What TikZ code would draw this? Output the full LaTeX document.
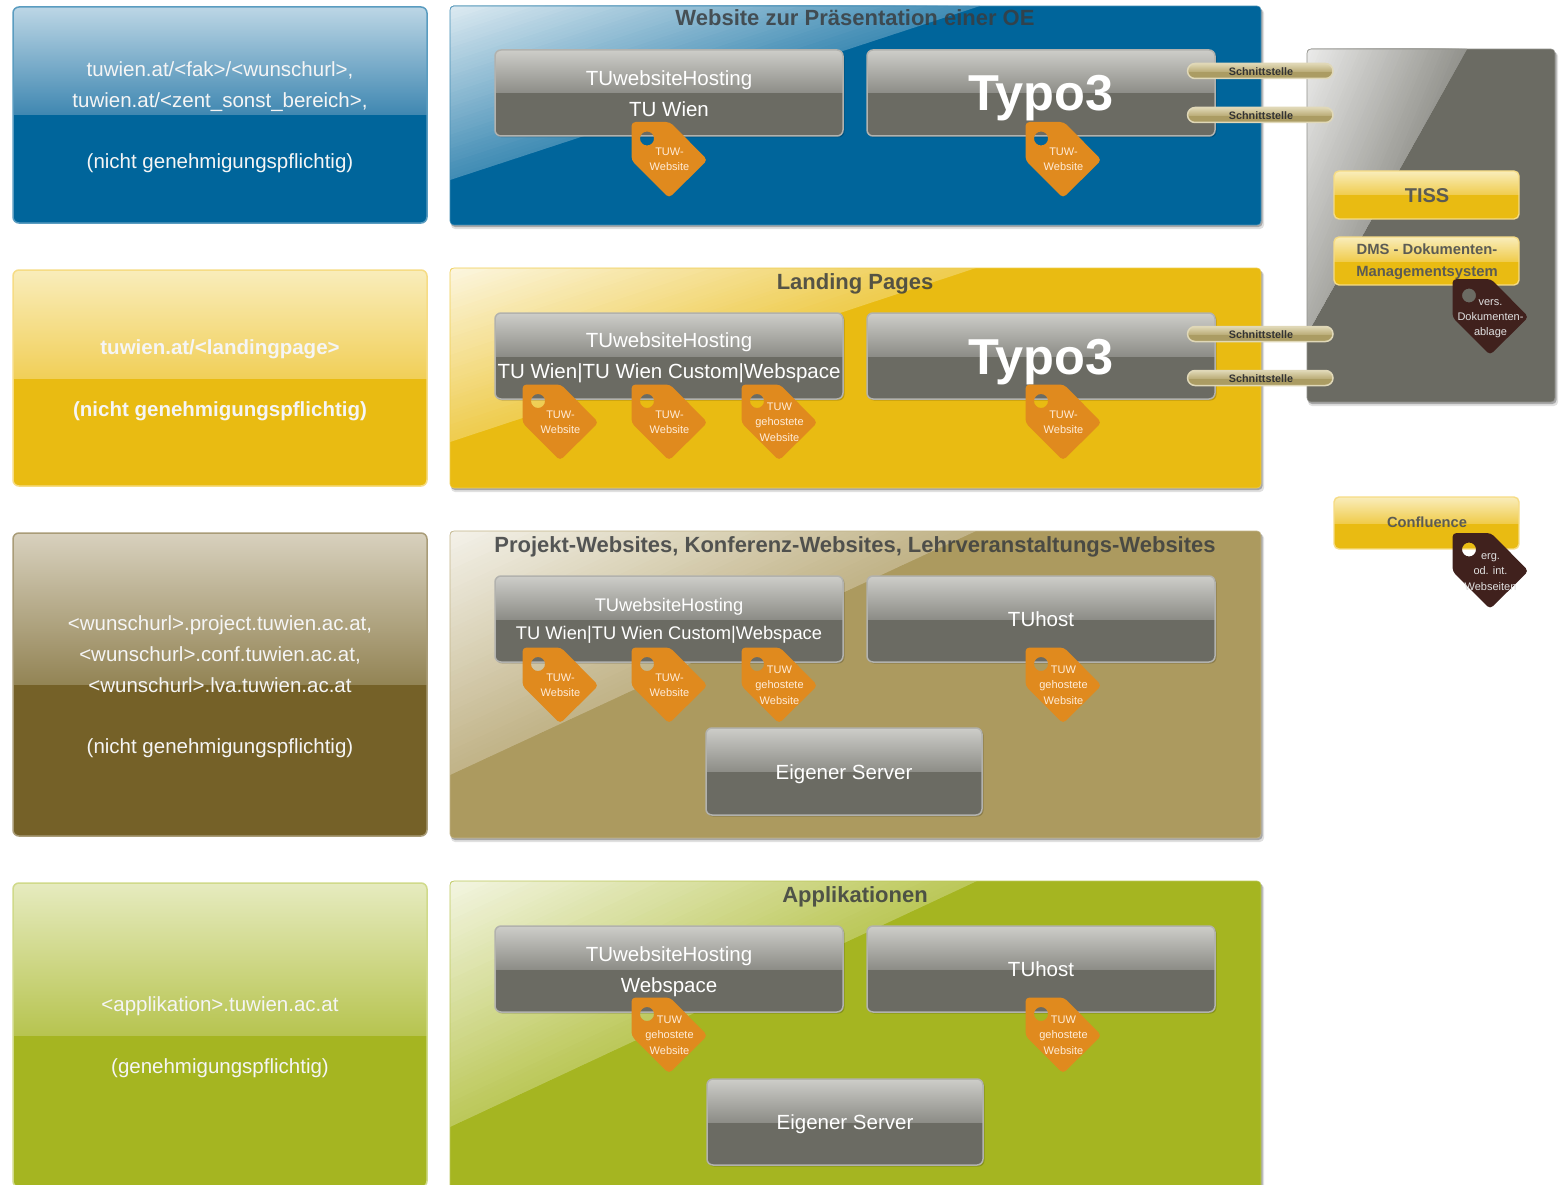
\documentclass[tikz,border=0pt]{standalone}
\usepackage{fontspec}
\setmainfont{Liberation Sans}
\definecolor{cblue}{HTML}{00659B}
\definecolor{cyellow}{HTML}{E9BB12}
\definecolor{cbrown}{HTML}{756128}
\definecolor{ctan}{HTML}{AC9A5F}
\definecolor{cgreen}{HTML}{A5B521}
\definecolor{cgrey}{HTML}{6B6B63}
\definecolor{corange}{HTML}{E08A1E}
\definecolor{cdark}{HTML}{40211D}
\definecolor{ctitle}{HTML}{3A3D3F}
\newcommand{\fsz}[2]{\fontsize{#1}{#2}\selectfont}
% left panel / any box with glossy upper half: x1 y1 x2 y2 split base radius top mid
\newcommand{\glossbox}[9]{%
  \begin{scope}
    \clip[rounded corners=#7] (#1,#2) rectangle (#3,#4);
    \fill[#6] (#1,#2) rectangle (#3,#4);
    \shade[top color=#8,bottom color=#9] (#1,#2) rectangle (#3,#5);
  \end{scope}}
\newcommand{\boxedge}[7]{\draw[#5,line width=#6,rounded corners=#7] (#1,#2) rectangle (#3,#4);}
% diagonal gloss panel: x1 y1 x2 y2 W H clipW clipH base
\newcommand{\diagpanel}[9]{%
  \fill[black,opacity=.12,rounded corners=4pt] (#1+1,#2+3) rectangle (#3+3,#4+4);
  \fill[black,opacity=.25,rounded corners=4pt] (#1+1,#2+2) rectangle (#3+1.5,#4+2);
  \begin{scope}
    \clip[rounded corners=4pt] (#1,#2) rectangle (#3,#4);
    \fill[#9] (#1,#2) rectangle (#3,#4);
    \clip (#1,#2) -- (#1+#7,#2) -- (#1,#2+#8) -- cycle;
    \foreach \t in {100,98,...,2}{%
      \pgfmathtruncatemacro{\p}{88-(88-26)*\t/100}%
      \fill[white!\p!#9] (#1,#2) -- (#1+#5/100*\t,#2) -- (#1,#2+#6/100*\t) -- cycle;}
  \end{scope}
  \draw[#9!75!white,line width=.6pt,rounded corners=4pt] (#1,#2) rectangle (#3,#4);}
\definecolor{HTMLcc}{HTML}{CDCDC9}
\definecolor{HTMLmm}{HTML}{8D8D87}
\definecolor{HTMLb}{HTML}{B2B2AE}
\definecolor{ytop}{HTML}{F9EDBB}
\definecolor{ymid}{HTML}{F0CC4D}
\definecolor{yedge}{HTML}{F6DC85}
% sub box: x1 y1 x2 y2
\newcommand{\greybox}[4]{%
  \pgfmathsetmacro{\sp}{(#2+#4)/2}%
  \fill[black,opacity=.18,rounded corners=6pt] (#1+1,#2+1) rectangle (#3+1.5,#4+1.5);
  \glossbox{#1}{#2}{#3}{#4}{\sp}{cgrey}{6pt}{HTMLcc}{HTMLmm}
  \boxedge{#1}{#2}{#3}{#4}{HTMLb}{1.5pt}{6pt}}
% yellow box: x1 y1 x2 y2
\newcommand{\yellowbox}[4]{%
  \pgfmathsetmacro{\sp}{(#2+#4)/2}%
  \glossbox{#1}{#2}{#3}{#4}{\sp}{cyellow}{5pt}{ytop}{ymid}
  \boxedge{#1}{#2}{#3}{#4}{yedge}{1.4pt}{5pt}}
% price tag: name cx cy colour textcolour text
\newcommand{\pricetag}[6]{%
  \fill[#4,even odd rule,rounded corners=4pt,shift={(#2,#3)}]
    (-37.5,-37.5) -- (1,-37.5) -- (38.5,0.5) -- (0,38.5) -- (-37.5,1) -- cycle
    (-22,-21) circle[radius=7];
  \node[tagtext,text=#5] (#1) at (#2+.5,#3) {#6};}
% pill: name cy
\definecolor{ptop}{HTML}{E0D8B6}
\definecolor{pmid}{HTML}{BBAD78}
\definecolor{pbase}{HTML}{AB9C63}
\definecolor{pedge}{HTML}{E0D8B8}
\newcommand{\pill}[2]{%
  \pgfmathsetmacro{\pa}{#2-7.5}\pgfmathsetmacro{\pb}{#2+7.5}%
  \glossbox{1187.5}{\pa}{1333}{\pb}{#2+.5}{pbase}{7.5pt}{ptop}{pmid}
  \boxedge{1187.5}{\pa}{1333}{\pb}{pedge}{1.5pt}{7.5pt}
  \node[pilltext] (#1) at (1261,#2+.7) {Schnittstelle};}
\tikzset{
  tagtext/.style={font=\fsz{11}{15.3},align=center,inner sep=0pt},
  lefttext/.style={font=\fsz{20.5}{30.8},align=center,inner sep=0pt,text=white!96!black},
  boxtext/.style={font=\fsz{20.5}{31},align=center,inner sep=0pt,text=white},
  typotext/.style={font=\fsz{50.5}{51}\bfseries,inner sep=0pt,text=white,anchor=base},
  titletext/.style={font=\fsz{22}{26}\bfseries,inner sep=0pt,text=ctitle,text opacity=.85,anchor=base},
  yellowtext/.style={font=\fsz{14.8}{22}\bfseries,align=center,inner sep=0pt,text=cgrey!85!black},
  pilltext/.style={font=\fsz{10.8}{12}\bfseries,inner sep=0pt,text=black!80},
}
\begin{document}
\begin{tikzpicture}[x=1pt,y=-1pt]
\useasboundingbox (0,0) rectangle (1565,1185);
\clip (0,0) rectangle (1565,1185);
\fill[white] (0,0) rectangle (1565,1185);
% ----- left panels
\definecolor{bt}{HTML}{BCD6E5}\definecolor{bm}{HTML}{3F87B1}\definecolor{be}{HTML}{5A9CC0}
\definecolor{yt}{HTML}{F9EDBB}\definecolor{ym}{HTML}{F1CF58}\definecolor{ye}{HTML}{F6DC85}
\definecolor{nt}{HTML}{D8D1BE}\definecolor{nm}{HTML}{938455}\definecolor{ne}{HTML}{A99C78}
\definecolor{gt}{HTML}{E6EBBF}\definecolor{gm}{HTML}{B7C450}\definecolor{ge}{HTML}{D0DA8A}
\glossbox{13}{7}{427}{223}{115}{cblue}{6pt}{bt}{bm}
\boxedge{13}{7}{427}{223}{be}{1.5pt}{6pt}
\glossbox{13}{270}{427}{486}{378}{cyellow}{6pt}{yt}{ym}
\boxedge{13}{270}{427}{486}{ye}{1.5pt}{6pt}
\glossbox{13}{533}{427}{836}{684}{cbrown}{6pt}{nt}{nm}
\boxedge{13}{533}{427}{836}{ne}{1.5pt}{6pt}
\glossbox{13}{883}{427}{1187}{1035}{cgreen}{6pt}{gt}{gm}
\boxedge{13}{883}{427}{1187}{ge}{1.5pt}{6pt}
\node[lefttext] (l1) at (220,117.5) {tuwien.at/<fak>/<wunschurl>,\\tuwien.at/<zent\_sonst\_bereich>,\\[30.8pt](nicht genehmigungspflichtig)};
\node[lefttext,font=\fsz{20.5}{30.8}\bfseries] (l2) at (220,380.5) {tuwien.at/<landingpage>\\[30.8pt](nicht genehmigungspflichtig)};
\node[lefttext] (l3) at (220,687) {<wunschurl>.project.tuwien.ac.at,\\<wunschurl>.conf.tuwien.ac.at,\\<wunschurl>.lva.tuwien.ac.at\\[30.8pt](nicht genehmigungspflichtig)};
\node[lefttext] (l4) at (220,1037) {<applikation>.tuwien.ac.at\\[30.8pt](genehmigungspflichtig)};
% ----- right panels
\diagpanel{450}{6}{1261}{225}{530}{174}{530}{174}{cblue}
\diagpanel{450}{268}{1261}{488}{526}{174}{526}{174}{cyellow}
\diagpanel{450}{531}{1261}{838}{526}{244}{526}{244}{ctan}
\diagpanel{450}{881}{1261}{1190}{527}{246}{527}{246}{cgreen}
\diagpanel{1307}{49}{1555}{402}{165}{400}{160}{285}{cgrey}
\node[titletext] (t1) at (855,26) {Website zur Präsentation einer OE};
\node[titletext] (t2) at (855,289) {Landing Pages};
\node[titletext] (t3) at (855,552) {Projekt-Websites, Konferenz-Websites, Lehrveranstaltungs-Websites};
\node[titletext] (t4) at (855,902) {Applikationen};
% ----- sub boxes
\greybox{495}{50}{843}{136}
\greybox{867}{50}{1215}{136}
\greybox{495}{313}{843}{399}
\greybox{867}{313}{1215}{399}
\greybox{495}{576}{843}{662}
\greybox{867}{576}{1215}{662}
\greybox{706}{728}{982}{815}
\greybox{495}{926}{843}{1012}
\greybox{867}{926}{1215}{1012}
\greybox{707}{1079}{983}{1165}
\node[boxtext] (a1) at (669,94) {TUwebsiteHosting\\TU Wien};
\node[typotext] (a2) at (1041,111) {Typo3};
\node[boxtext] (b1) at (669,358) {TUwebsiteHosting\\TU Wien|TU Wien Custom|Webspace};
\node[typotext] (b2) at (1041,374) {Typo3};
\node[boxtext,font=\fsz{18.3}{28}] (c1) at (669,621) {TUwebsiteHosting\\TU Wien|TU Wien Custom|Webspace};
\node[boxtext] (c2) at (1041,619) {TUhost};
\node[boxtext] (c3) at (844,774) {Eigener Server};
\node[boxtext] (d1) at (669,972) {TUwebsiteHosting\\Webspace};
\node[boxtext] (d2) at (1041,969) {TUhost};
\node[boxtext] (d3) at (845,1124) {Eigener Server};
% ----- pills
\pill{s1}{71}
\pill{s2}{115}
\pill{s3}{334}
\pill{s4}{378}
% ----- yellow boxes
\yellowbox{1334}{171}{1519}{219}
\yellowbox{1334}{237}{1519}{285}
\yellowbox{1334}{497}{1519}{549}
\node[yellowtext,font=\fsz{20}{24}\bfseries] (y1) at (1427,196) {TISS};
\node[yellowtext] (y2) at (1427,262) {DMS - Dokumenten-\\Managementsystem};
\node[yellowtext,font=\fsz{14.7}{18}\bfseries] (y3) at (1427,522) {Confluence};
% ----- tags
\pricetag{g1}{669}{159.5}{corange}{orange!15!white}{TUW-\\Website}
\pricetag{g2}{1063}{159.5}{corange}{orange!15!white}{TUW-\\Website}
\pricetag{g3}{560}{422}{corange}{orange!15!white}{TUW-\\Website}
\pricetag{g4}{669}{422}{corange}{orange!15!white}{TUW-\\Website}
\pricetag{g5}{779}{422}{corange}{orange!15!white}{TUW\\gehostete\\Website}
\pricetag{g6}{1063}{422}{corange}{orange!15!white}{TUW-\\Website}
\pricetag{g7}{560}{685}{corange}{orange!15!white}{TUW-\\Website}
\pricetag{g8}{669}{685}{corange}{orange!15!white}{TUW-\\Website}
\pricetag{g9}{779}{685}{corange}{orange!15!white}{TUW\\gehostete\\Website}
\pricetag{g10}{1063}{685}{corange}{orange!15!white}{TUW\\gehostete\\Website}
\pricetag{g11}{669}{1035}{corange}{orange!15!white}{TUW\\gehostete\\Website}
\pricetag{g12}{1063}{1035}{corange}{orange!15!white}{TUW\\gehostete\\Website}
\fill[cdark,even odd rule,rounded corners=4pt,shift={(1490,316.5)}]
    (-37.5,-37.5) -- (1,-37.5) -- (38.5,0.5) -- (0,38.5) -- (-37.5,1) -- cycle
    (-21,-21) circle[radius=7];
\node[tagtext,text=white!88!black] (g13) at (1490.5,318.5) {vers.\\Dokumenten-\\ablage};
\fill[cdark,even odd rule,rounded corners=4pt,shift={(1490,570.5)}]
    (-37.5,-37.5) -- (1,-37.5) -- (38.5,0.5) -- (0,38.5) -- (-37.5,1) -- cycle
    (-21,-21) circle[radius=7];
\node[tagtext,text=white!88!black] (g14) at (1490.5,572) {erg.\\od. int.\\Webseiten};
\end{tikzpicture}
\end{document}
